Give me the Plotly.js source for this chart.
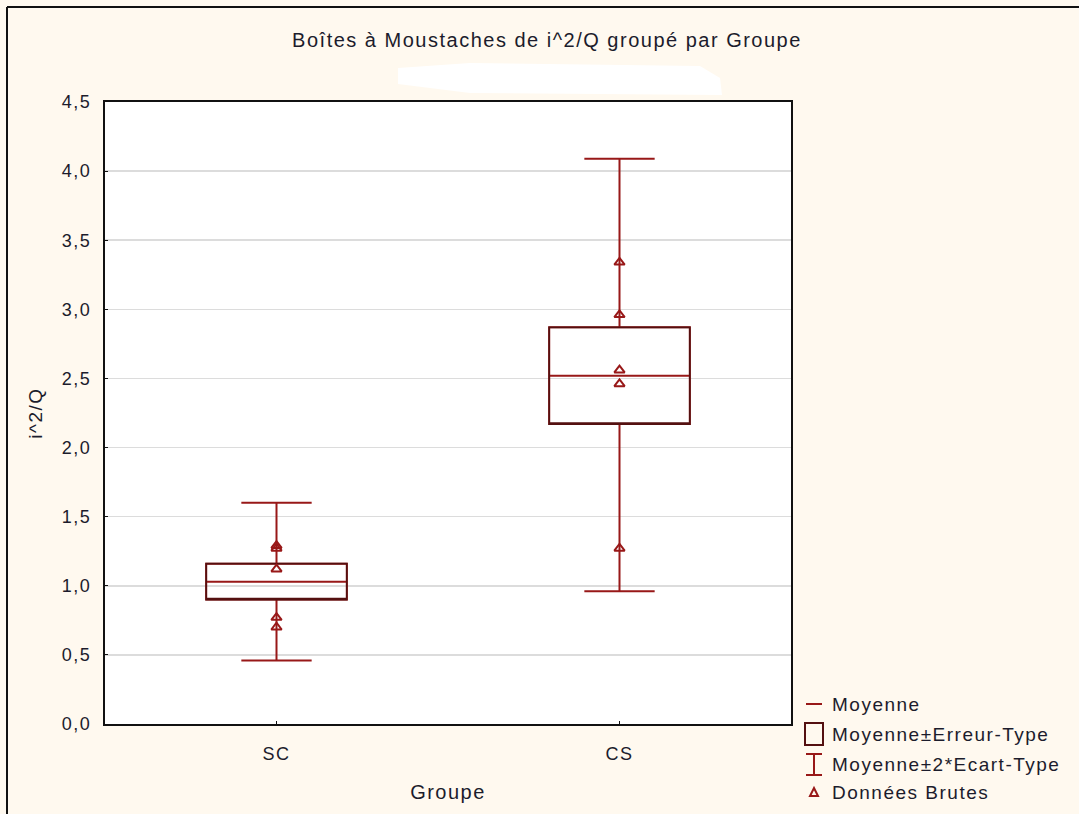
<!DOCTYPE html>
<html><head><meta charset="utf-8">
<script src="https://cdn.plot.ly/plotly-3.0.1.min.js"></script>
<style>
html,body{margin:0;padding:0;background:#FFF9EF;overflow:hidden}
text{letter-spacing:1.5px}
</style>
</head><body>
<div id="chart" style="width:1079px;height:814px"></div>
<script>
// ---- data ----
const groups = ['SC', 'CS'];
const means = [1.03, 2.52];
const seLow = [0.90, 2.17];   // Moyenne - Erreur-Type
const seHigh = [1.16, 2.87];  // Moyenne + Erreur-Type
const sdLow = [0.46, 0.96];   // Moyenne - 2*Ecart-Type
const sdHigh = [1.60, 4.09];  // Moyenne + 2*Ecart-Type
const rawGroup = ['SC', 'SC', 'SC', 'SC', 'SC', 'CS', 'CS', 'CS', 'CS', 'CS'];
const rawValues = [1.29, 1.27, 1.12, 0.77, 0.70, 3.34, 2.96, 2.56, 2.46, 1.27];
const yTickVals = [0, 0.5, 1.0, 1.5, 2.0, 2.5, 3.0, 3.5, 4.0, 4.5];
const legendLabels = ['Moyenne', 'Moyenne±Erreur-Type', 'Moyenne±2*Ecart-Type', 'Données Brutes'];
const titleText = 'Boîtes à Moustaches de i^2/Q groupé par Groupe';
const xTitle = 'Groupe';
const yTitle = 'i^2/Q';

// ---- styling ----
const RED = '#981818';
const DARK = '#541010';
const TXT = '#1C1C2C';
const FONT = 'Liberation Sans, Arial, sans-serif';

const W = 1079, H = 814;
const L = 105, R = 791, T = 102, B = 724;
const px = x => (x - L) / (R - L);
const py = y => (B - y) / (B - T);

const traces = [
  {
    type: 'box', x: groups, q1: seLow, median: means, q3: seHigh,
    lowerfence: sdLow, upperfence: sdHigh, boxpoints: false,
    line: {color: RED, width: 2}, fillcolor: 'rgba(0,0,0,0)',
    whiskerwidth: 0.5, width: 0.41, showlegend: false, hoverinfo: 'skip'
  },
  {
    type: 'box', x: groups, q1: seLow, median: seLow, q3: seHigh,
    lowerfence: seLow, upperfence: seHigh, boxpoints: false,
    line: {color: DARK, width: 1.7}, fillcolor: 'rgba(0,0,0,0)',
    whiskerwidth: 0, width: 0.41, showlegend: false, hoverinfo: 'skip'
  },
  {
    type: 'scatter', mode: 'markers', x: rawGroup, y: rawValues,
    marker: {symbol: 'triangle-up-open', size: 9, color: RED, line: {color: RED, width: 2}},
    showlegend: false, hoverinfo: 'y'
  }
];

// legend drawn at right-bottom outside plot
const rows = [704, 734, 764, 792];
const shapes = [
  // outer frame (left & top)
  {type: 'line', xref: 'paper', yref: 'paper', x0: px(7), x1: px(7), y0: py(7), y1: py(830), line: {color: '#111', width: 2}},
  {type: 'line', xref: 'paper', yref: 'paper', x0: px(7), x1: px(1079), y0: py(7), y1: py(7), line: {color: '#111', width: 2}},
  // white patch under title
  {type: 'path', xref: 'paper', yref: 'paper', fillcolor: '#FFFFFF', line: {width: 0},
   path: `M ${px(398)},${py(68)} L ${px(470)},${py(63)} L ${px(700)},${py(66)} L ${px(720)},${py(78)} L ${px(722)},${py(95)} L ${px(470)},${py(93)} L ${px(398)},${py(84)} Z`},
  // legend symbols
  {type: 'line', xref: 'paper', yref: 'paper', x0: px(806), x1: px(822), y0: py(rows[0]), y1: py(rows[0]), line: {color: RED, width: 2}},
  {type: 'rect', xref: 'paper', yref: 'paper', x0: px(805), x1: px(823), y0: py(rows[1] - 11), y1: py(rows[1] + 11), line: {color: DARK, width: 2}},
  {type: 'line', xref: 'paper', yref: 'paper', x0: px(814), x1: px(814), y0: py(rows[2] - 10), y1: py(rows[2] + 11), line: {color: RED, width: 2}},
  {type: 'line', xref: 'paper', yref: 'paper', x0: px(806), x1: px(822), y0: py(rows[2] - 10), y1: py(rows[2] - 10), line: {color: RED, width: 2}},
  {type: 'line', xref: 'paper', yref: 'paper', x0: px(806), x1: px(822), y0: py(rows[2] + 11), y1: py(rows[2] + 11), line: {color: RED, width: 2}},
  {type: 'path', xref: 'paper', yref: 'paper', line: {color: RED, width: 2},
   path: `M ${px(810)},${py(rows[3] + 4)} L ${px(818)},${py(rows[3] + 4)} L ${px(814)},${py(rows[3] - 4)} Z`}
];

const annotations = legendLabels.map((t, i) => ({
  text: t, xref: 'paper', yref: 'paper', x: px(830), y: py(rows[i]),
  xanchor: 'left', yanchor: 'middle', showarrow: false,
  font: {family: FONT, size: 19, color: TXT}
}));

const layout = {
  width: W, height: H,
  margin: {l: L, r: W - R, t: T, b: H - B, pad: 0},
  paper_bgcolor: '#FFF9EF', plot_bgcolor: '#FFFFFF',
  separators: ', ',
  font: {family: FONT, size: 18, color: TXT},
  title: {text: titleText, xref: 'container', yref: 'container', x: 547 / W, y: 1 - 40 / H,
          xanchor: 'center', yanchor: 'middle', font: {family: FONT, size: 20, color: TXT}},
  xaxis: {
    type: 'category', range: [-0.5, 1.5], showgrid: false, zeroline: false,
    showline: true, linecolor: '#111', linewidth: 2, mirror: true,
    ticks: 'inside', ticklen: 3, tickcolor: '#111', tickfont: {size: 18},
    ticklabelstandoff: 12,
    title: {text: xTitle, font: {size: 20}, standoff: 22}
  },
  yaxis: {
    range: [0, 4.5], tickvals: yTickVals, tickformat: '.1f',
    showgrid: true, gridcolor: '#DCDCDC', gridwidth: 1.5, zeroline: false,
    showline: true, linecolor: '#111', linewidth: 2, mirror: true,
    ticks: 'inside', ticklen: 3, tickcolor: '#111', tickfont: {size: 18},
    ticklabelstandoff: 8,
    title: {text: yTitle, font: {size: 19}, standoff: 14}
  },
  shapes: shapes, annotations: annotations, showlegend: false
};

Plotly.newPlot('chart', traces, layout, {displayModeBar: false, staticPlot: true});
</script>
</body></html>
